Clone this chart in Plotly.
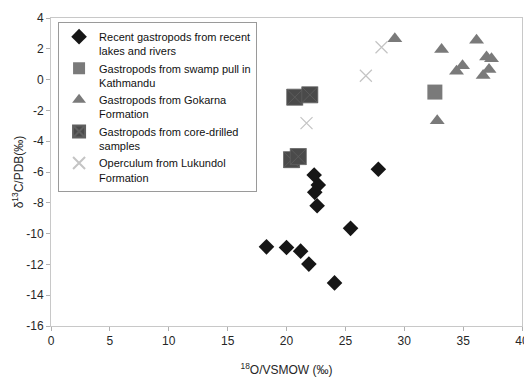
import plotly.graph_objects as go

# ---- data ----
recent_x = [27.8, 22.35, 22.7, 22.4, 22.6, 25.44, 18.3, 20.0, 21.2, 21.9, 24.08]
recent_y = [-5.82, -6.19, -6.84, -7.32, -8.19, -9.66, -10.86, -10.9, -11.14, -11.98, -13.2]

swamp_x = [32.6]
swamp_y = [-0.81]

gokarna_x = [29.2, 36.14, 33.17, 36.99, 37.41, 34.95, 34.44, 37.2, 36.7, 32.8]
gokarna_y = [2.65, 2.55, 1.95, 1.47, 1.36, 0.9, 0.54, 0.65, 0.26, -2.67]

core_x = [20.7, 21.98, 20.43, 21.0]
core_y = [-1.14, -0.99, -5.2, -5.0]

operc_x = [21.7, 26.74, 28.07]
operc_y = [-2.83, 0.25, 2.1]

x_ticks = [0, 5, 10, 15, 20, 25, 30, 35, 40]
x_ticktext = ["0", "5", "10", "15", "20", "25", "30", "35", "40"]
y_ticks = [-16, -14, -12, -10, -8, -6, -4, -2, 0, 2, 4]
y_ticktext = ["-16", "-14", "-12", "-10", "-8", "-6", "-4", "-2", "0", "2", "4"]

names = [
    "Recent gastropods from recent<br>lakes and rivers",
    "Gastropods from swamp pull in<br>Kathmandu",
    "Gastropods from Gokarna<br>Formation",
    "Gastropods from core-drilled<br>samples",
    "Operculum from Lukundol<br>Formation",
]

FONT = "Arial, Liberation Sans, sans-serif"

fig = go.Figure()
fig.add_trace(go.Scatter(x=recent_x, y=recent_y, mode="markers", name=names[0],
                         marker=dict(symbol="diamond", size=12, color="#161616",
                                     line=dict(width=0))))
fig.add_trace(go.Scatter(x=swamp_x, y=swamp_y, mode="markers", name=names[1],
                         marker=dict(symbol="square", size=15, color="#7a7a7a",
                                     line=dict(width=0))))
fig.add_trace(go.Scatter(x=gokarna_x, y=gokarna_y, mode="markers", name=names[2],
                         marker=dict(symbol="triangle-up", size=13, color="#7a7a7a",
                                     line=dict(width=0))))
fig.add_trace(go.Scatter(x=core_x, y=core_y, mode="markers", name=names[3],
                         marker=dict(symbol="square-x", size=16, color="#4a4a4a",
                                     line=dict(width=0.8, color="#606060"))))
fig.add_trace(go.Scatter(x=operc_x, y=operc_y, mode="markers", name=names[4],
                         marker=dict(symbol="x-thin", size=12, color="#c4c4c4",
                                     line=dict(width=1.2, color="#c4c4c4"))))

axis_common = dict(showline=True, linecolor="#c8c8c8", linewidth=1, mirror=True,
                   showgrid=False, zeroline=False, ticks="outside", ticklen=4,
                   tickcolor="#b0b0b0", automargin=False,
                   tickfont=dict(family=FONT, size=12, color="#262626"))

fig.update_xaxes(range=[0, 40], tickvals=x_ticks, ticktext=x_ticktext,
                 title=dict(text="<sup>18</sup>O/VSMOW (‰)", font=dict(family=FONT, size=12, color="#262626"),
                            standoff=22),
                 **axis_common)
fig.update_yaxes(range=[-16, 4], tickvals=y_ticks, ticktext=y_ticktext,
                 title=dict(text="δ<sup>13</sup>C/PDB(‰)", font=dict(family=FONT, size=12, color="#262626"),
                            standoff=0),
                 **axis_common)

# page body has an 8px default margin, so the figure is offset by 8px
fig.update_layout(
    width=524, height=369,
    margin=dict(l=43, r=10, t=10, b=51, autoexpand=False),
    paper_bgcolor="white", plot_bgcolor="white",
    font=dict(family=FONT, size=12, color="#111"),
    legend=dict(x=0.015, y=0.987, xanchor="left", yanchor="top",
                bordercolor="#9a9a9a", borderwidth=1, bgcolor="white",
                font=dict(family=FONT, size=11, color="#111"), valign="top",
                itemsizing="constant", itemwidth=30, tracegroupgap=0),
    showlegend=True,
)

fig.write_html("out.html")
